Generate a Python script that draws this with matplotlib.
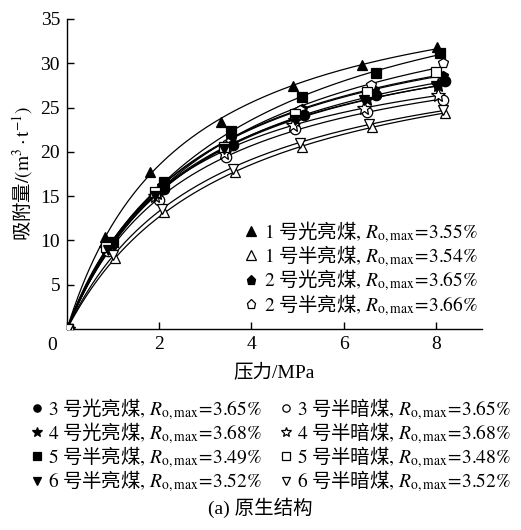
import numpy as np
import matplotlib
matplotlib.use('Agg')
import matplotlib.pyplot as plt

plt.rcParams['font.family'] = ['Liberation Serif', 'Noto Sans CJK SC']
plt.rcParams['mathtext.fontset'] = 'stix'
CJK = ['Noto Sans CJK SC', 'Liberation Serif']

# 压力 (MPa) 与 吸附量 (m3/t)，读自原图
labels = ['1 号光亮煤', '1 号半亮煤', '2 号光亮煤', '2 号半亮煤',
          '3 号光亮煤', '3 号半暗煤', '4 号光亮煤', '4 号半暗煤',
          '5 号半亮煤', '5 号半暗煤', '6 号半亮煤', '6 号半暗煤']
ro_max = ['3.55', '3.54', '3.65', '3.66', '3.65', '3.65',
          '3.68', '3.68', '3.49', '3.48', '3.52', '3.52']
markers = ['^', '^', 'p', 'p', 'o', 'o', '*', '*', 's', 's', 'v', 'v']
filled = [True, False, True, False, True, False, True, False, True, False, True, False]

p1 = [0.02, 0.82, 1.80, 3.35, 4.90, 6.40, 8.02]
v1 = [0, 10.4, 17.7, 23.4, 27.4, 29.8, 31.8]
p2 = [0.02, 1.05, 2.10, 3.65, 5.10, 6.62, 8.20]
v2 = [0, 8.0, 13.2, 17.7, 20.6, 22.8, 24.4]
p3 = [0.02, 0.95, 2.05, 3.55, 5.10, 6.65, 8.15]
v3 = [0, 9.6, 16.2, 21.5, 24.8, 27.0, 28.6]
p4 = [0.02, 0.90, 2.00, 3.50, 5.05, 6.60, 8.15]
v4 = [0, 9.2, 15.6, 21.0, 24.7, 27.6, 30.0]
p5 = [0.02, 0.95, 2.10, 3.60, 5.15, 6.70, 8.20]
v5 = [0, 9.4, 15.8, 20.8, 24.2, 26.4, 28.0]
p6 = [0.02, 0.90, 2.00, 3.45, 4.95, 6.50, 8.15]
v6 = [0, 8.8, 14.6, 19.4, 22.6, 24.5, 25.9]
p7 = [0.02, 0.90, 1.95, 3.45, 4.95, 6.50, 8.05]
v7 = [0, 9.3, 15.4, 20.5, 23.6, 26.0, 27.5]
p8 = [0.02, 0.85, 1.90, 3.40, 4.90, 6.45, 8.05]
v8 = [0, 9.2, 15.0, 19.9, 23.0, 25.0, 26.4]
p9 = [0.02, 1.00, 2.10, 3.55, 5.10, 6.70, 8.10]
v9 = [0, 9.8, 16.6, 22.3, 26.2, 28.9, 31.2]
p10 = [0.02, 0.85, 1.90, 3.40, 4.95, 6.50, 8.00]
v10 = [0, 9.3, 15.5, 20.6, 24.3, 26.8, 29.0]
p11 = [0.02, 0.88, 1.90, 3.40, 4.95, 6.45, 8.00]
v11 = [0, 8.9, 15.0, 20.3, 23.6, 25.9, 27.4]
p12 = [0.02, 1.00, 2.05, 3.60, 5.05, 6.55, 8.15]
v12 = [0, 8.3, 13.6, 18.1, 21.0, 23.1, 24.7]

pressures = [p1, p2, p3, p4, p5, p6, p7, p8, p9, p10, p11, p12]
volumes = [v1, v2, v3, v4, v5, v6, v7, v8, v9, v10, v11, v12]


def legend_label(name, ro):
    num, coal = name.split(' ')
    return (f'$\\mathrm{{{num}}}$ {coal}'
            f'$\\mathrm{{,}}\\ R_{{\\mathrm{{o,max}}}}\\!\\mathrm{{=}}\\!\\mathrm{{{ro}\\%}}$')


fig = plt.figure(figsize=(5.21, 5.30), dpi=100)
ax = fig.add_axes([0.1286, 0.3792, 0.7964, 0.585])

handles = []
for i in range(12):
    p = np.array(pressures[i])
    v = np.array(volumes[i])
    # Langmuir 拟合: P/V = P/VL + PL/VL
    k, b = np.polyfit(p[1:], p[1:] / v[1:], 1)
    vl, pl = 1 / k, b / k
    pp = np.linspace(0, p[-1], 200)
    ax.plot(pp, vl * pp / (pl + pp), color='black', lw=0.9, zorder=2)
    ms = 10 if markers[i] == '*' else 7.5
    h, = ax.plot(p, v, linestyle='none', marker=markers[i], ms=ms,
                 mfc='black' if filled[i] else 'white', mec='black', mew=0.9,
                 zorder=3, label=legend_label(labels[i], ro_max[i]))
    handles.append(h)

ax.set_xlim(0, 9)
ax.set_ylim(0, 35)
ax.set_xticks([0, 2, 4, 6, 8])
ax.set_xticklabels(['', '2', '4', '6', '8'])
ax.set_yticks([0, 5, 10, 15, 20, 25, 30, 35])
ax.set_yticklabels(['', '5', '10', '15', '20', '25', '30', '35'])
ax.tick_params(direction='in', length=5, width=1, labelsize=14, pad=5)
ax.text(-0.025, -0.025, '0', transform=ax.transAxes, ha='right', va='top', fontsize=14)
for s in ['top', 'right']:
    ax.spines[s].set_visible(False)
for s in ['left', 'bottom']:
    ax.spines[s].set_linewidth(1)

ax.set_xlabel('压力/MPa', fontsize=14, labelpad=8)
ax.set_ylabel('吸附量$\\mathrm{/(m^3\\cdot t^{-1})}$', fontsize=14, labelpad=4, family=CJK)

leg1 = ax.legend(handles=handles[:4], loc='lower right', bbox_to_anchor=(1.01, 0.012),
                 frameon=False, prop={'family': CJK, 'size': 14}, handlelength=0.6,
                 handletextpad=0.4, labelspacing=-0.08, borderaxespad=0, markerscale=0.9)

order = [4, 6, 8, 10, 5, 7, 9, 11]
fig.legend(handles=[handles[i] for i in order], loc='upper center',
           bbox_to_anchor=(0.52, 0.268), ncol=2, frameon=False,
           prop={'family': CJK, 'size': 14}, handlelength=0.6, handletextpad=0.3,
           labelspacing=-0.08, columnspacing=0.9, borderaxespad=0, markerscale=0.7)

fig.text(0.5, 0.042, '(a) 原生结构', ha='center', va='center', fontsize=14)

fig.savefig('out.png', dpi=100)
